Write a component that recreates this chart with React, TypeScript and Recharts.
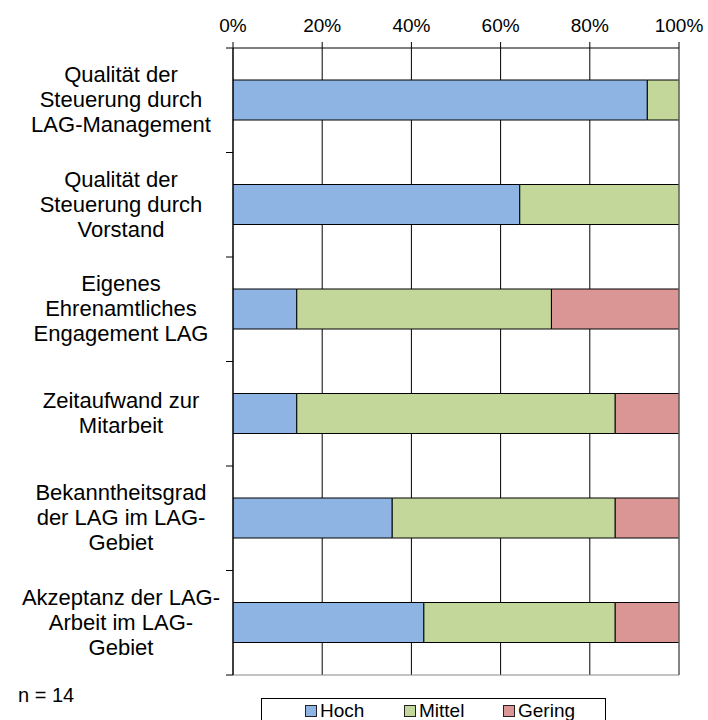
import React from 'react';
import {
  Bar,
  BarChart,
  CartesianGrid,
  ReferenceLine,
  XAxis,
  YAxis,
} from 'recharts';

const categories = [
  'Qualität der\nSteuerung durch\nLAG-Management',
  'Qualität der\nSteuerung durch\nVorstand',
  'Eigenes\nEhrenamtliches\nEngagement LAG',
  'Zeitaufwand zur\nMitarbeit',
  'Bekanntheitsgrad\nder LAG im LAG-\nGebiet',
  'Akzeptanz der LAG-\nArbeit im LAG-\nGebiet',
];
const hoch = [92.9, 64.3, 14.3, 14.3, 35.7, 42.8];
const mittel = [7.1, 35.7, 57.1, 71.4, 50.0, 42.9];
const gering = [0, 0, 28.6, 14.3, 14.3, 14.3];
const xTicks = [0, 20, 40, 60, 80, 100];

const SERIES = [
  { key: 'hoch', name: 'Hoch', color: '#8EB4E3' },
  { key: 'mittel', name: 'Mittel', color: '#C4D79B' },
  { key: 'gering', name: 'Gering', color: '#DA9694' },
];

const data = categories.map((name, i) => ({
  name,
  hoch: hoch[i],
  mittel: mittel[i],
  gering: gering[i],
}));

const FONT = '"Liberation Sans", Arial, sans-serif';
const AXIS_X = 233;
const LABEL_CX = 121;

const CategoryTick = ({ y, payload, index }: any) => {
  const lines = String(payload.value).split('\n');
  const half = payload.offset ?? 0;
  const lh = 25;
  const first = y - ((lines.length - 1) * lh) / 2 + 7;
  return (
    <g>
      <line x1={AXIS_X - 7} x2={AXIS_X} y1={y - half} y2={y - half} stroke="#000" />
      {index === categories.length - 1 && (
        <line x1={AXIS_X - 7} x2={AXIS_X} y1={y + half} y2={y + half} stroke="#000" />
      )}
      <text x={LABEL_CX} y={first} textAnchor="middle" fontSize={22} fill="#000">
        {lines.map((l, i) => (
          <tspan key={i} x={LABEL_CX} dy={i === 0 ? 0 : lh}>{l}</tspan>
        ))}
      </text>
    </g>
  );
};

export default function App() {
  return (
    <div style={{ position: 'relative', width: 708, height: 720, fontFamily: FONT, background: '#fff' }}>
      <style>{`body{margin:0}`}</style>
      <BarChart
        width={708}
        height={720}
        data={data}
        layout="vertical"
        barSize={40}
        margin={{ top: 0, right: 29, bottom: 0, left: 0 }}
      >
        <CartesianGrid xAxisId="top" vertical horizontal={false} stroke="#000" />
        <XAxis
          xAxisId="top"
          orientation="top"
          type="number"
          domain={[0, 100]}
          ticks={xTicks}
          tickFormatter={(v) => `${v}%`}
          height={48}
          tickSize={6}
          tickMargin={10}
          axisLine={{ stroke: '#000' }}
          tickLine={{ stroke: '#000' }}
          tick={{ fontSize: 19, fill: '#000' }}
          allowDataOverflow
        />
        <XAxis
          xAxisId="bottom"
          orientation="bottom"
          type="number"
          domain={[0, 100]}
          height={45}
          tick={false}
          tickLine={false}
          axisLine={{ stroke: '#888' }}
        />
        <YAxis
          type="category"
          dataKey="name"
          width={AXIS_X}
          axisLine={{ stroke: '#000' }}
          tickLine={false}
          tick={<CategoryTick />}
          interval={0}
        />
        <ReferenceLine xAxisId="top" x={100} stroke="#888" />
        {SERIES.map((s) => (
          <Bar
            key={s.key}
            xAxisId="top"
            dataKey={s.key}
            name={s.name}
            stackId="a"
            fill={s.color}
            stroke="#000"
            strokeWidth={1}
            isAnimationActive={false}
          />
        ))}
      </BarChart>
      <div style={{ position: 'absolute', left: 18, top: 684, fontSize: 20, lineHeight: '22px' }}>n = 14</div>
      <div
        style={{
          position: 'absolute', left: 261, top: 698, width: 345, height: 40,
          border: '1px solid #000', boxSizing: 'border-box', background: '#fff',
        }}
      >
        {SERIES.map((s, i) => (
          <div
            key={s.key}
            style={{
              position: 'absolute', left: 43 + i * 99, top: 1,
              display: 'flex', alignItems: 'center', fontSize: 19, lineHeight: '22px',
            }}
          >
            <span style={{
              width: 10, height: 10, border: '1px solid #222', background: s.color,
              display: 'inline-block', marginRight: 3,
            }} />
            {s.name}
          </div>
        ))}
      </div>
    </div>
  );
}
